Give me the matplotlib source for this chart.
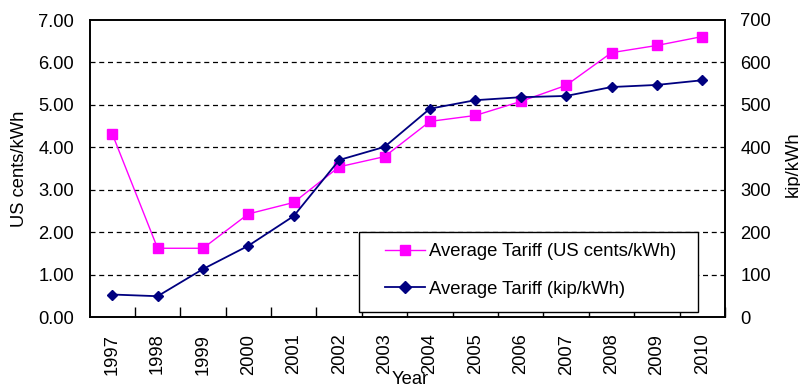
import matplotlib
matplotlib.use("Agg")
import matplotlib.pyplot as plt
from matplotlib.lines import Line2D
from matplotlib.patches import Rectangle
import numpy as np

plt.rcParams['font.family'] = ['Liberation Sans', 'DejaVu Sans']

years = ['1997', '1998', '1999', '2000', '2001', '2002', '2003',
         '2004', '2005', '2006', '2007', '2008', '2009', '2010']
tariff_usc = [4.32, 1.62, 1.62, 2.43, 2.70, 3.54, 3.78,
              4.61, 4.75, 5.08, 5.46, 6.23, 6.40, 6.61]
tariff_kip = [53, 49, 113, 168, 238, 370, 401,
              491, 511, 518, 521, 542, 547, 558]

label_usc = 'Average Tariff (US cents/kWh)'
label_kip = 'Average Tariff (kip/kWh)'
magenta = '#FF00FF'
navy = '#000080'
FS = 13.2

W, H = 800, 389
fig = plt.figure(figsize=(W / 100, H / 100), dpi=100)
ax = fig.add_axes([89.5 / W, 1 - 317 / H, (725 - 89.5) / W, (317 - 20) / H])
ax2 = ax.twinx()

x = np.arange(len(years))
ax.plot(x, tariff_usc, color=magenta, lw=1.0, marker='s', ms=6.5,
        mec=magenta, mfc=magenta, zorder=3, label=label_usc)
ax2.plot(x, tariff_kip, color=navy, lw=1.3, marker='D', ms=5.5,
         mec=navy, mfc=navy, zorder=3, label=label_kip)

ax.set_xlim(-0.5, len(years) - 0.5)
ax.set_ylim(0, 7)
ax2.set_ylim(0, 700)

# dashed horizontal gridlines
for v in range(1, 7):
    ax.axhline(v, color='black', lw=0.9, ls=(0, (4, 3)), zorder=1)

# category labels centred, boundary ticks pointing inward
ax.set_xticks(x + 0.5)
ax.set_xticks(x, minor=True)
ax.set_xticklabels([])
ax.set_xticklabels(years, minor=True, rotation=90, fontsize=FS)
ax.tick_params(axis='x', which='major', direction='in', length=7, width=1,
               color='black')
ax.tick_params(axis='x', which='minor', length=0, pad=12)

ax.set_yticks(np.arange(0, 8, 1))
ax.set_yticklabels([f'{v:.2f}' for v in range(0, 8)], fontsize=FS)
ax.tick_params(axis='y', length=0, pad=11)
ax2.set_yticks(np.arange(0, 800, 100))
ax2.set_yticklabels([str(v) for v in range(0, 800, 100)], fontsize=FS)
ax2.tick_params(axis='y', length=0, pad=11)

for a in (ax, ax2):
    for s in a.spines.values():
        s.set_color('black')
        s.set_linewidth(1.2)

fig.text(20 / W, 1 - 169 / H, 'US cents/kWh', rotation=90, fontsize=FS,
         ha='center', va='center')
fig.text(793 / W, 1 - 164.5 / H, 'kip/kWh', rotation=90, fontsize=FS,
         ha='center', va='center')
fig.text(410 / W, 1 - 384.5 / H, 'Year', fontsize=FS, ha='center', va='baseline')

# legend box
x0, y0, x1, y1 = 358.5, 231.7, 697.7, 311.5
fig.patches.append(Rectangle((x0 / W, 1 - y1 / H), (x1 - x0) / W, (y1 - y0) / H,
                             transform=fig.transFigure, facecolor='white',
                             edgecolor='black', lw=1.0, zorder=4))
handles = [Line2D([], [], color=magenta, lw=1.0, marker='s', ms=7),
           Line2D([], [], color=navy, lw=1.3, marker='D', ms=6)]
fig.legend(handles, [label_usc, label_kip], loc='upper left',
           bbox_to_anchor=(385 / W, 1 - 243 / H), bbox_transform=fig.transFigure,
           frameon=False, fontsize=13.3, handlelength=2.17, handletextpad=0.22,
           borderpad=0, borderaxespad=0, labelspacing=1.12)

fig.savefig('out.png', dpi=100)
